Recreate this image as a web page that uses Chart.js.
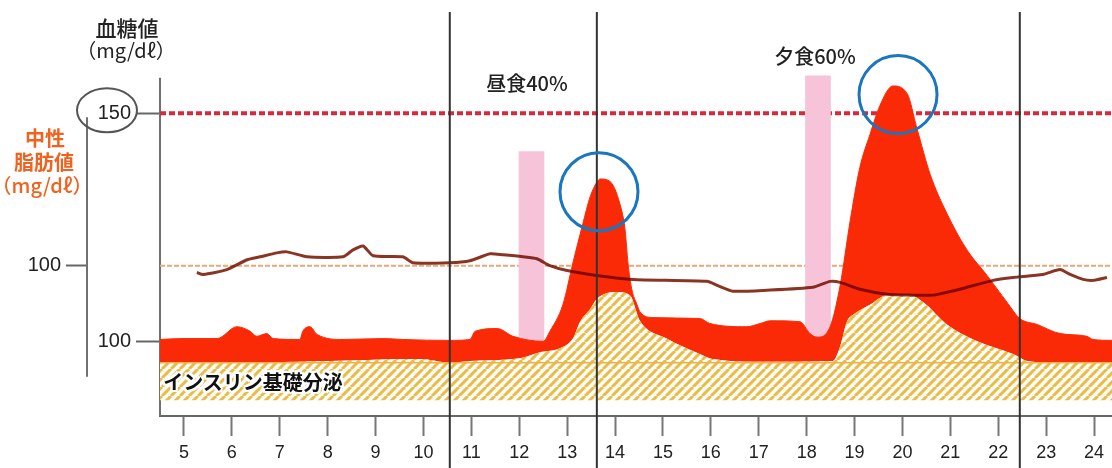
<!DOCTYPE html>
<html lang="ja">
<head>
<meta charset="utf-8">
<script src="https://cdn.jsdelivr.net/npm/chart.js@4.4.1/dist/chart.umd.min.js"></script>
<style>
  html, body { margin: 0; padding: 0; background: #fff; }
  #wrap { position: relative; width: 1112px; height: 468px; font-family: "Noto Sans CJK JP", sans-serif; color: #222; }
  .t { position: absolute; white-space: nowrap; line-height: 1; transform: translate(-50%, -50%); }
  .orange { color: #f0621e; font-weight: 700; }
  .insulin { font-weight: 700; font-size: 20px; color: #111;
    text-shadow: 2px 0 #fff, -2px 0 #fff, 0 2px #fff, 0 -2px #fff, 2px 2px #fff, -2px -2px #fff, 2px -2px #fff, -2px 2px #fff; }
</style>
</head>
<body>
<div id="wrap">
  <canvas id="c"></canvas>
  <div class="t" style="left:127px;top:27px;font-size:21px;font-weight:500">血糖値</div>
  <div class="t" style="left:126px;top:50px;font-size:20px">（mg/dℓ）</div>
  <div class="t orange" style="left:45px;top:138px;font-size:20px">中性</div>
  <div class="t orange" style="left:44px;top:162px;font-size:20px">脂肪値</div>
  <div class="t orange" style="left:42px;top:185px;font-size:20px;font-weight:500">（mg/dℓ）</div>
  <div class="t" style="left:527px;top:83px;font-size:20px;font-weight:500">昼食40%</div>
  <div class="t" style="left:815px;top:56px;font-size:20px;font-weight:500">夕食60%</div>
  <div class="t insulin" style="left:253px;top:382px">インスリン基礎分泌</div>
</div>
<script>
// 時刻 (h) と各値の読み取り
const HOUR_TICKS = [5, 6, 7, 8, 9, 10, 11, 12, 13, 14, 15, 16, 17, 18, 19, 20, 21, 22, 23, 24];
const X_RANGE = [4.5, 24.375];

// 血糖値 (mg/dl)
const GLU_HOURS = [4.50, 4.98, 5.69, 6.11, 6.38, 6.52, 6.73, 6.86, 7.42, 7.48, 7.63, 7.78, 8.32, 9.15, 9.57,
  10.55, 10.97, 11.08, 11.54, 11.87, 12.50, 12.64, 12.91, 13.12, 13.33, 13.48, 13.62, 13.69, 13.89, 14.10,
  14.21, 14.27, 14.35, 14.46, 14.52, 14.79, 15.77, 15.98, 16.75, 17.03, 17.24, 17.86, 18.07, 18.22, 18.49,
  18.70, 18.91, 19.11, 19.32, 19.53, 19.80, 20.10, 20.30, 20.58, 20.93, 21.35, 21.77, 22.18, 22.45, 22.81,
  23.29, 23.85, 23.98, 24.375];
const GLU_VALUES = [100.4, 100.6, 100.6, 103.2, 102.2, 101.1, 101.7, 100.6, 100.4, 102.2, 103.2, 101.5, 100.4, 100.6, 100.4,
  100.2, 100.4, 102.2, 102.8, 101.1, 100.0, 102.2, 108.0, 117.2, 125.9, 131.7, 134.9, 135.6, 135.1, 130.2,
  124.4, 117.2, 111.4, 108.0, 106.5, 105.2, 105.0, 103.9, 103.2, 103.9, 104.5, 104.3, 101.7, 100.9, 103.2,
  112.3, 126.5, 138.1, 145.3, 151.7, 156.0, 154.3, 146.8, 136.6, 128.0, 120.0, 114.4, 108.6, 105.0, 103.7,
  101.7, 101.1, 100.4, 100.2];

// インスリン分泌 (血糖値の目盛りで表示)
const INS_HOURS = [4.50, 7.42, 9.93, 10.55, 10.97, 12.02, 12.43, 12.85, 13.12, 13.27, 13.48, 13.62, 14.04, 14.31,
  14.52, 15.08, 15.77, 16.04, 17.03, 18.55, 18.70, 18.84, 18.97, 19.32, 19.68, 20.16, 20.43, 20.93, 21.56,
  22.31, 22.60, 23.29, 24.375];
const INS_VALUES = [95.3, 95.5, 96.1, 95.3, 95.7, 96.3, 97.6, 98.5, 100.6, 104.3, 107.1, 109.3, 110.8, 110.1,
  104.5, 100.6, 97.2, 96.1, 95.5, 95.7, 98.9, 104.3, 105.8, 108.0, 110.1, 110.1, 108.6, 103.7, 100.0,
  97.2, 95.7, 95.3, 95.3];
const INS_BASAL = 95.3;
const INS_FLOOR = 87.07;

// 中性脂肪値 (mg/dl)
const TG_HOURS = [5.27, 5.40, 5.90, 6.32, 6.59, 6.94, 7.15, 7.57, 8.32, 8.53, 8.74, 8.95, 9.57, 9.78, 10.55,
  10.97, 11.39, 11.66, 12.08, 12.37, 12.64, 13.00, 13.62, 14.37, 15.92, 16.13, 16.46, 17.17, 18.13, 18.49,
  18.70, 19.11, 19.68, 20.16, 20.64, 21.20, 21.89, 22.31, 22.93, 23.29, 23.50, 23.77, 23.98, 24.27];
const TG_VALUES = [96.5, 95.5, 98.0, 103.0, 104.5, 106.5, 107.0, 104.5, 104.5, 108.0, 110.0, 105.0, 104.5, 101.5, 101.5,
  102.5, 106.0, 105.5, 104.5, 103.5, 100.0, 97.5, 95.0, 93.0, 92.0, 90.0, 87.0, 87.5, 89.0, 92.0,
  91.5, 88.0, 85.5, 85.0, 85.0, 88.0, 92.5, 94.0, 95.5, 98.0, 95.5, 93.0, 92.5, 94.0];

// 食事 (時刻, 表示の上端)
const MEAL_HOURS = [12.255, 18.237];
const MEAL_TOPS = [141.6, 158.2];
const MEAL_BOTTOM = 100;

const GLU_LIMIT = 150;   // 血糖値の基準線
const TG_LIMIT = 100;    // 中性脂肪の基準線
const MARK_HOURS = [10.55, 13.62, 22.45];
const PEAK_MARKS = [[13.665, 132.8], [19.908, 154.1]];
const GLU_AXIS_TOP = 157.8;
const TG_AXIS_RANGE = [43.5, 175.5];

const pts = (xs, ys) => xs.map((x, i) => ({ x, y: ys[i] }));
const flat = v => [{ x: X_RANGE[0], y: v }, { x: X_RANGE[1], y: v }];

// 斜線パターン
function hatch() {
  const s = 9, c = document.createElement('canvas');
  c.width = s; c.height = s;
  const g = c.getContext('2d');
  g.fillStyle = '#fffbf2'; g.fillRect(0, 0, s, s);
  g.strokeStyle = '#e6bc4c'; g.lineWidth = 3;
  g.beginPath();
  for (let k = -1; k <= 1; k++) { g.moveTo(k * s, s); g.lineTo(k * s + s, 0); }
  g.stroke();
  return g.createPattern(c, 'repeat');
}

const overlay = {
  id: 'overlay',
  beforeDatasetsDraw(chart) {
    const { ctx, scales: { y, y2 }, chartArea: a } = chart;
    ctx.save();
    ctx.strokeStyle = '#707070'; ctx.lineWidth = 2;
    ctx.beginPath();
    ctx.moveTo(a.left, y.getPixelForValue(GLU_AXIS_TOP)); ctx.lineTo(a.left, a.bottom);
    ctx.moveTo(y2.right - 1, y2.getPixelForValue(TG_AXIS_RANGE[1])); ctx.lineTo(y2.right - 1, y2.getPixelForValue(TG_AXIS_RANGE[0]));
    ctx.stroke();
    // 150 を囲む楕円
    const cy = y.getPixelForValue(GLU_LIMIT) - 3;
    ctx.strokeStyle = '#555'; ctx.lineWidth = 2;
    ctx.beginPath(); ctx.ellipse(a.left - 53, cy, 30, 22, 0, 0, Math.PI * 2); ctx.stroke();
    ctx.restore();
  },
  beforeDatasetDraw(chart, args) {
    if (chart.data.datasets[args.index].id === 'tg') { chart.ctx.save(); chart.ctx.globalCompositeOperation = 'multiply'; }
  },
  afterDatasetDraw(chart, args) {
    if (chart.data.datasets[args.index].id === 'tg') chart.ctx.restore();
  },
  afterDatasetsDraw(chart) {
    const { ctx, scales: { x, y } } = chart;
    ctx.save();
    ctx.strokeStyle = '#333'; ctx.lineWidth = 2;
    MARK_HOURS.forEach(h => {
      const px = x.getPixelForValue(h);
      ctx.beginPath(); ctx.moveTo(px, 12); ctx.lineTo(px, chart.height); ctx.stroke();
    });
    ctx.strokeStyle = '#1a76bd'; ctx.lineWidth = 3;
    PEAK_MARKS.forEach(([h, g]) => {
      ctx.beginPath(); ctx.arc(x.getPixelForValue(h), y.getPixelForValue(g), 39, 0, Math.PI * 2); ctx.stroke();
    });
    ctx.restore();
  }
};

const FONT = '"Liberation Sans", "Noto Sans CJK JP", sans-serif';

new Chart(document.getElementById('c'), {
  type: 'line',
  data: {
    datasets: [
      { id: 'refGlu', data: flat(GLU_LIMIT), borderColor: '#d42a3c', borderWidth: 4, borderDash: [6, 3],
        pointRadius: 0, fill: false, order: 10 },
      { id: 'refTg', data: flat(TG_LIMIT), yAxisID: 'y2', borderColor: '#eaa77a', borderWidth: 2, borderDash: [5, 2],
        pointRadius: 0, fill: false, order: 10 },
      { id: 'meal', type: 'bar', data: MEAL_HOURS.map((h, i) => ({ x: h, y: [MEAL_BOTTOM, MEAL_TOPS[i]] })),
        backgroundColor: '#f7c3d8', barThickness: 25, grouped: false, order: 9 },
      { id: 'glu', data: pts(GLU_HOURS, GLU_VALUES), borderColor: '#fb2a06', borderWidth: 1,
        backgroundColor: '#fb2a06', pointRadius: 0, cubicInterpolationMode: 'monotone',
        fill: { target: 4 }, order: 8 },
      { id: 'ins', data: pts(INS_HOURS, INS_VALUES), borderColor: 'rgba(0,0,0,0)', borderWidth: 0,
        backgroundColor: hatch(), pointRadius: 0, cubicInterpolationMode: 'monotone',
        fill: { value: INS_FLOOR }, order: 7 },
      { id: 'basal', data: flat(INS_BASAL), borderColor: '#e8b54a', borderWidth: 1.5, pointRadius: 0, fill: false, order: 6 },
      { id: 'tg', data: pts(TG_HOURS, TG_VALUES), yAxisID: 'y2', borderColor: '#8a3524', borderWidth: 3,
        pointRadius: 0, fill: false, tension: 0.2, order: 5 }
    ]
  },
  options: {
    responsive: true, maintainAspectRatio: false, animation: false,
    layout: { padding: { top: 10, left: 0, right: 0, bottom: 0 } },
    plugins: { legend: { display: false }, tooltip: { enabled: false } },
    scales: {
      x: { type: 'linear', min: X_RANGE[0], max: X_RANGE[1], offset: false,
        afterBuildTicks: s => { s.ticks = HOUR_TICKS.map(v => ({ value: v })); },
        afterFit: s => { s.height = 52; },
        grid: { offset: false, drawOnChartArea: false, tickLength: 20, tickColor: '#777', tickWidth: 2 },
        border: { display: true, color: '#666', width: 2 },
        ticks: { color: '#222', font: { family: FONT, size: 18 }, padding: 6, maxRotation: 0, autoSkip: false } },
      y: { position: 'left', weight: 0, min: 83.62, max: 171.12,
        afterBuildTicks: s => { s.ticks = [100, 150].map(v => ({ value: v })); },
        afterFit: s => { s.width = 72; },
        grid: { drawOnChartArea: false, tickLength: 24, tickColor: '#666', tickWidth: 2 },
        border: { display: false },
        ticks: { color: '#222', font: { family: FONT, size: 20 }, padding: 5 } },
      y2: { position: 'left', weight: 1, min: 23.5, max: 226.5,
        afterBuildTicks: s => { s.ticks = [TG_LIMIT].map(v => ({ value: v })); },
        afterFit: s => { s.width = 88; },
        grid: { drawOnChartArea: false, tickLength: 22, tickColor: '#666', tickWidth: 2 },
        border: { display: false },
        ticks: { color: '#222', font: { family: FONT, size: 20 }, padding: 5 } }
    }
  },
  plugins: [overlay]
});
</script>
</body>
</html>
